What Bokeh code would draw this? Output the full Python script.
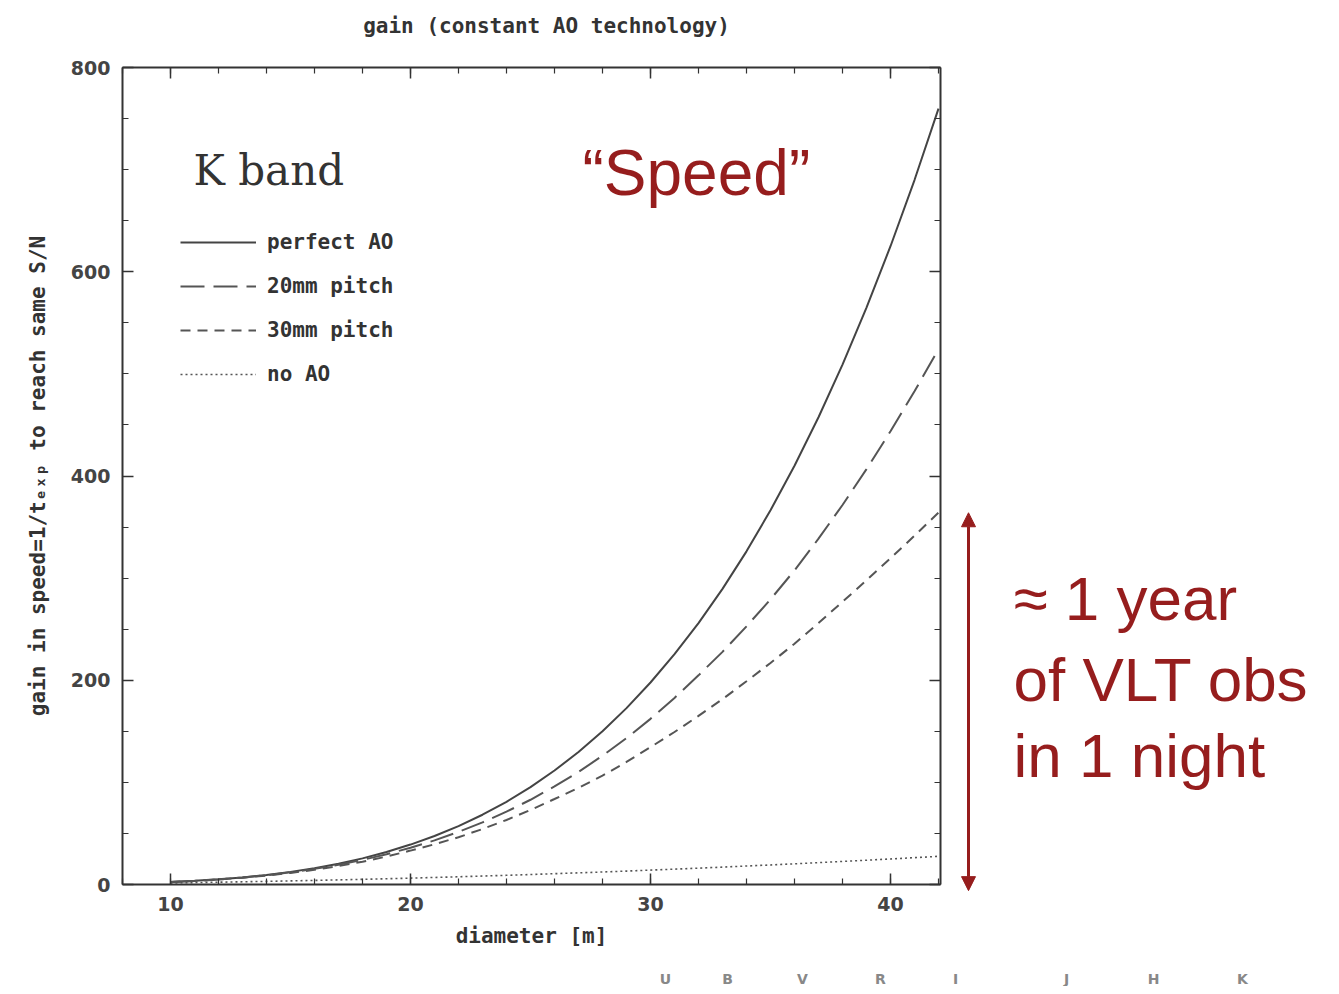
from bokeh.plotting import figure
from bokeh.models import (Range1d, LinearAxis, SingleIntervalTicker, Legend, LegendItem,
                          Label, Arrow, NormalHead, CustomJSTickFormatter)
from bokeh.embed import file_html
from bokeh.resources import INLINE

# ---- data ----
diameter = [10, 11, 12, 13, 14, 15, 16, 17, 18, 19, 20, 21, 22, 23, 24, 25, 26,
            27, 28, 29, 30, 31, 32, 33, 34, 35, 36, 37, 38, 39, 40, 41, 42]
perfect_ao = [2.44, 3.57, 5.06, 6.97, 9.38, 12.36, 16.0, 20.39, 25.6, 31.81, 39.1,
              47.48, 57.2, 68.32, 81.0, 95.37, 111.6, 129.7, 150.1, 172.7, 197.8,
              225.5, 256.0, 289.5, 326.2, 366.4, 410.1, 457.5, 509.1, 564.9, 625.0,
              689.8, 759.7]
pitch_20mm = [2.42, 3.52, 4.96, 6.80, 9.10, 11.89, 15.3, 19.33, 24.1, 29.58, 36.0,
              43.21, 51.5, 60.80, 71.3, 82.97, 96.0, 110.2, 126.1, 143.3, 162.2,
              182.7, 204.8, 227.8, 252.8, 279.2, 307.6, 338.6, 371.6, 406.7, 443.8,
              482.9, 524.2]
pitch_30mm = [2.39, 3.45, 4.83, 6.57, 8.72, 11.31, 14.4, 18.05, 22.3, 27.36, 33.2,
              39.41, 46.3, 54.31, 63.2, 72.96, 83.7, 94.68, 106.6, 120.0, 134.5,
              149.3, 165.1, 181.5, 199.0, 216.9, 235.8, 256.0, 276.8, 297.9, 319.4,
              341.5, 364.2]
no_ao = [1.56, 1.89, 2.25, 2.64, 3.06, 3.52, 4.0, 4.52, 5.06, 5.64, 6.25, 6.89,
         7.56, 8.27, 9.0, 9.77, 10.6, 11.39, 12.25, 13.14, 14.1, 15.02, 16.0,
         17.02, 18.1, 19.14, 20.25, 21.39, 22.6, 23.77, 25.0, 26.27, 27.6]
series_names = ["perfect AO", "20mm pitch", "30mm pitch", "no AO"]
x_axis_range = [8, 42.08]
y_axis_range = [0, 800]
band_letters = ["U", "B", "V", "R", "I", "J", "H", "K"]
arrow_range = [-6, 364]

RED = "#961d1d"
AX = "#333333"
MONO = "DejaVu Sans Mono"

# layout helpers: the plot box sits at page px 122..940 (x) and 67..884 (y)
XPX = 24.0          # px per metre
YPX = 817 / 800.0   # px per unit of gain


def px_x(px):
    return x_axis_range[0] + (px - 122) / XPX


def px_y(py):
    return (884 - py) / YPX


W, H = 1331, 986
p = figure(width=W, height=H, output_backend="svg", toolbar_location=None,
           x_range=Range1d(px_x(0), px_x(W)), y_range=Range1d(px_y(H), px_y(0)),
           min_border=0, x_axis_type=None, y_axis_type=None)
p.grid.visible = False
p.outline_line_color = None
p.background_fill_color = "white"
p.border_fill_color = "white"

xt = SingleIntervalTicker(interval=10, num_minor_ticks=5)
yt = SingleIntervalTicker(interval=200, num_minor_ticks=4)
blank = CustomJSTickFormatter(code="return ''")

bottom_ax = LinearAxis(ticker=xt, fixed_location=y_axis_range[0], bounds=tuple(x_axis_range),
                       axis_label="diameter [m]")
top_ax = LinearAxis(ticker=xt, fixed_location=y_axis_range[1], bounds=tuple(x_axis_range),
                    formatter=blank)
left_ax = LinearAxis(ticker=yt, fixed_location=x_axis_range[0], bounds=tuple(y_axis_range),
                     axis_label="gain in speed=1/t\u2091\u2093\u209a to reach same S/N")
right_ax = LinearAxis(ticker=yt, fixed_location=x_axis_range[1], bounds=tuple(y_axis_range),
                      formatter=blank)
p.add_layout(bottom_ax, "below")
p.add_layout(top_ax, "above")
p.add_layout(left_ax, "left")
p.add_layout(right_ax, "right")

for ax in [bottom_ax, top_ax, left_ax, right_ax]:
    ax.axis_line_color = AX
    ax.axis_line_width = 2
    ax.major_tick_in = 11
    ax.major_tick_out = 0
    ax.minor_tick_in = 6
    ax.minor_tick_out = 0
    ax.major_tick_line_color = AX
    ax.minor_tick_line_color = AX
    ax.major_tick_line_width = 1.5
    ax.minor_tick_line_width = 1.2
    ax.major_label_text_font = "DejaVu Sans"
    ax.major_label_text_font_style = "bold"
    ax.major_label_text_font_size = "19px"
    ax.major_label_text_color = "#444444"
    ax.major_label_standoff = 12
    ax.axis_label_text_font = MONO
    ax.axis_label_text_font_style = "bold"
    ax.axis_label_text_font_size = "21px"
    ax.axis_label_text_color = AX
left_ax.axis_label_standoff = 18
bottom_ax.axis_label_standoff = 10

r1 = p.line(diameter, perfect_ao, line_color="#444444", line_width=2)
r2 = p.line(diameter, pitch_20mm, line_color="#555555", line_width=2, line_dash="24 9")
r3 = p.line(diameter, pitch_30mm, line_color="#555555", line_width=2, line_dash="10 7")
r4 = p.line(diameter, no_ao, line_color="#555555", line_width=1.6, line_dash="2 3")

legend = Legend(items=[LegendItem(label=n, renderers=[r]) for n, r in
                       zip(series_names, [r1, r2, r3, r4])],
                location=(180, 600), padding=0, margin=0, spacing=20,
                glyph_width=76, glyph_height=24, label_height=24, label_standoff=11,
                label_text_font=MONO, label_text_font_style="bold",
                label_text_font_size="21px", label_text_color=AX,
                border_line_alpha=0, background_fill_alpha=0)
p.add_layout(legend, "center")

p.add_layout(Label(x=px_x(546), y=px_y(25), text="gain (constant AO technology)",
                   text_font=MONO, text_font_style="bold", text_font_size="21px",
                   text_color=AX, text_align="center", text_baseline="middle"))
p.add_layout(Label(x=px_x(193), y=px_y(170), text="K band", text_font="DejaVu Serif",
                   text_font_size="42px", text_color=AX, text_baseline="alphabetic"))
p.add_layout(Label(x=px_x(582), y=px_y(172), text="\u201cSpeed\u201d", text_font="Liberation Sans",
                   text_font_size="64px", text_color=RED, text_baseline="alphabetic"))

for txt, py in zip(["\u2248 1 year", "of VLT obs", "in 1 night"], [598, 679, 755]):
    p.add_layout(Label(x=px_x(1013), y=px_y(py), text=txt, text_font="Liberation Sans",
                       text_font_size="62px", text_color=RED, text_baseline="alphabetic"))

p.add_layout(Arrow(x_start=px_x(968), y_start=arrow_range[0], x_end=px_x(968), y_end=arrow_range[1],
                   line_color=RED, line_width=3,
                   start=NormalHead(size=14, fill_color=RED, line_color=RED),
                   end=NormalHead(size=14, fill_color=RED, line_color=RED)))

for letter, bpx in zip(band_letters, [665, 727, 802, 880, 955, 1066, 1153, 1242]):
    p.add_layout(Label(x=px_x(bpx), y=px_y(978), text=letter, text_font="DejaVu Sans",
                       text_font_style="bold", text_font_size="14px", text_color="#888888",
                       text_align="center", text_baseline="middle"))

open("out.html", "w").write(file_html(p, INLINE))
